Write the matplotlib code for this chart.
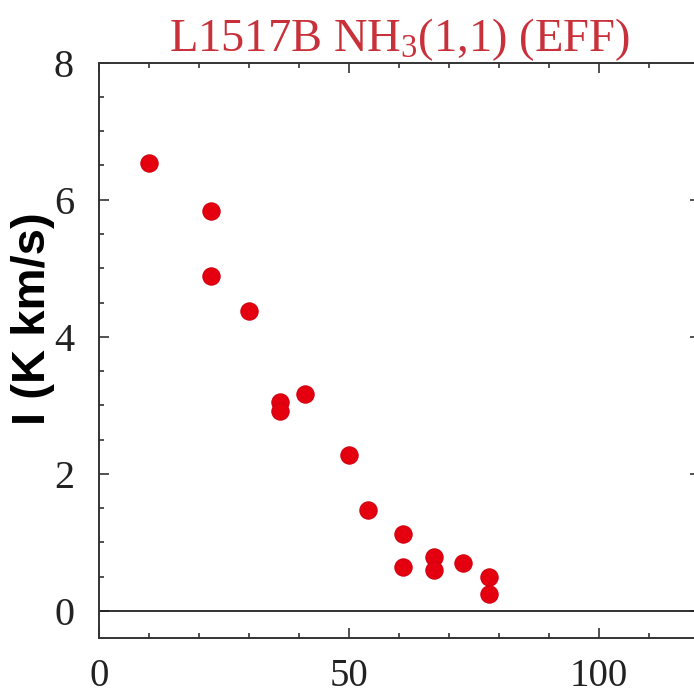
import matplotlib
matplotlib.use("Agg")
import matplotlib.pyplot as plt
from matplotlib.ticker import MultipleLocator

# Data
radius = [10, 22.3, 22.3, 30, 36.1, 36.1, 41.2, 50, 53.8, 60.7, 60.7, 67, 67, 72.7, 78, 78]
intensity = [6.54, 5.83, 4.88, 4.38, 3.05, 2.91, 3.17, 2.27, 1.47, 1.12, 0.64, 0.79, 0.60, 0.70, 0.50, 0.24]
x_ticks = [0, 50, 100]
y_ticks = [0, 2, 4, 6, 8]
title = r"L1517B NH$_3$(1,1) (EFF)"
ylabel = "I (K km/s)"

plt.rcParams['mathtext.default'] = 'regular'
plt.rcParams['font.family'] = ['Liberation Serif', 'DejaVu Serif']

fig = plt.figure(figsize=(6.94, 6.97), dpi=100)
ax = fig.add_axes([99/694, 58.7/697, 601/694, 575.6/697])

ax.scatter(radius, intensity, s=155, color='#e5000f', edgecolors='#d00010',
           linewidths=0.8, zorder=3)
ax.axhline(0, color='#222222', lw=1.3, zorder=2)

ax.set_xlim(0, 120.2)
ax.set_ylim(-0.4, 8)
ax.set_xticks(x_ticks)
ax.set_yticks(y_ticks)
ax.xaxis.set_minor_locator(MultipleLocator(10))
ax.yaxis.set_minor_locator(MultipleLocator(0.5))
ax.tick_params(which='both', direction='in', top=True, right=True,
               color='#222222', width=1.1)
ax.tick_params(which='major', length=7)
ax.tick_params(which='minor', length=3.6)
ax.tick_params(axis='x', which='major', labelsize=28, pad=14, labelcolor='#222222')
ax.tick_params(axis='y', which='major', labelsize=29, pad=18, labelcolor='#222222')
for sp in ax.spines.values():
    sp.set_linewidth(1.4)
    sp.set_color('#333333')

ax.set_title(title, color='#c8303a', fontsize=33.5, pad=5)
ax.set_ylabel(ylabel, family=['Liberation Sans', 'DejaVu Sans'], fontweight='bold',
              fontsize=34, va='center', ha='center')
ax.yaxis.set_label_coords(-0.11, 0.556)

fig.savefig("out.png", dpi=100)
